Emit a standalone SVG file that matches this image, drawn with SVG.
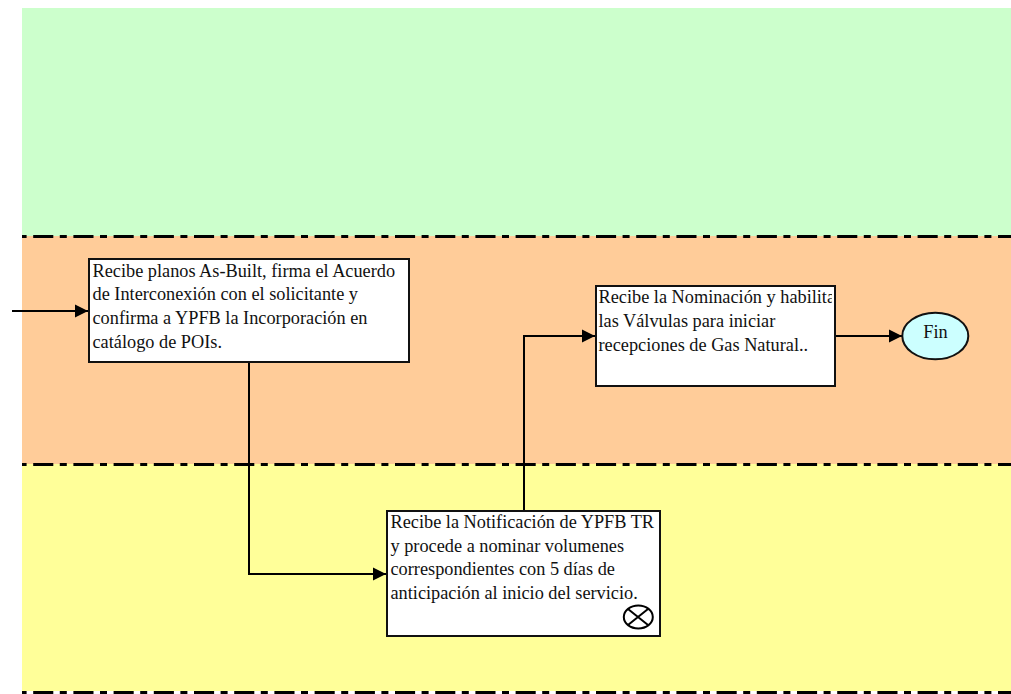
<svg xmlns="http://www.w3.org/2000/svg" width="1011" height="694" viewBox="0 0 1011 694">
<style>
.t{font-family:"Liberation Serif","Times New Roman",serif;font-size:18.300px;fill:#111}
.b{fill:#fff;stroke:#111;stroke-width:2}
.d{stroke:#000;stroke-width:3;stroke-dasharray:20.100 6.500 7 6.600;stroke-dashoffset:29;fill:none}
.c{fill:none;stroke:#000;stroke-width:2}
</style>
<defs>
<marker id="a" markerUnits="userSpaceOnUse" markerWidth="14" markerHeight="14" refX="13" refY="7" orient="auto"><path d="M0 0.500L13 7L0 13.500Z" fill="#000"/></marker>
<clipPath id="k"><rect x="596" y="286" width="236" height="99"/></clipPath>
</defs>
<g id="lanes">
<rect x="22" y="8" width="989" height="228" fill="#ccffcc"/>
<rect x="22" y="236" width="989" height="229" fill="#ffcc99"/>
<rect x="22" y="464" width="989" height="227" fill="#ffff99"/>
<path class="d" d="M22 236.500H1011M22 464.500H1011M22 692.500H1011"/>
</g>
<g id="connectors">
<path class="c" marker-end="url(#a)" d="M12 311H88"/>
<path class="c" marker-end="url(#a)" d="M249 362V574H386"/>
<path class="c" marker-end="url(#a)" d="M524 510V336H595"/>
<path class="c" marker-end="url(#a)" d="M834 336H902"/>
</g>
<g id="n1"><rect class="b" x="89" y="259" width="320" height="103"/>
<text class="t" x="92.500" y="277">Recibe planos As-Built, firma el Acuerdo</text>
<text class="t" x="92.500" y="300">de Interconexión con el solicitante y</text>
<text class="t" x="92.500" y="324">confirma a YPFB la Incorporación en</text>
<text class="t" x="92.500" y="347.500">catálogo de POIs.</text></g>
<g id="n2"><rect class="b" x="596" y="286" width="239" height="100"/>
<g clip-path="url(#k)"><text class="t" x="598.500" y="303">Recibe la Nominación y habilita</text>
<text class="t" x="598.500" y="327">las Válvulas para iniciar</text>
<text class="t" x="598.500" y="351">recepciones de Gas Natural..</text></g></g>
<g id="n3"><rect class="b" x="387" y="511" width="273" height="125"/>
<text class="t" x="390.500" y="528">Recibe la Notificación de YPFB TR</text>
<text class="t" x="390.500" y="552">y procede a nominar volumenes</text>
<text class="t" x="390.500" y="575">correspondientes con 5 días de</text>
<text class="t" x="390.500" y="599">anticipación al inicio del servicio.</text>
<g class="c"><ellipse cx="638.300" cy="617" rx="14.500" ry="11.500"/><path d="M628 609L648 625M648 609L628 625"/></g></g>
<g id="fin"><ellipse cx="935.300" cy="336" rx="33" ry="23.300" fill="#ccffff" stroke="#111" stroke-width="2"/>
<text class="t" x="935.500" y="337.500" text-anchor="middle">Fin</text></g>
</svg>
